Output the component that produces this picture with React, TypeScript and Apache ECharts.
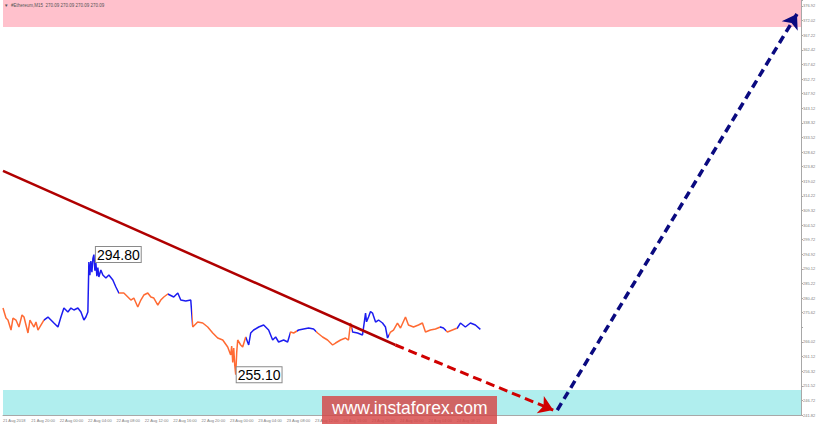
import React, { useEffect, useRef } from "react";
import * as echarts from "echarts";

const titleText = "▼  #Ethereum,M15  270.09 270.09 270.09 270.09";
const xTickLabels = [
  "21 Aug 2018", "21 Aug 20:00", "22 Aug 00:00", "22 Aug 04:00", "22 Aug 08:00",
  "22 Aug 12:00", "22 Aug 16:00", "22 Aug 20:00", "23 Aug 00:00", "23 Aug 04:00",
  "23 Aug 08:00", "23 Aug 12:00", "23 Aug 16:00", "23 Aug 20:00", "24 Aug 00:00",
  "24 Aug 04:00", "24 Aug 08:15",
];
const yTickLabels = [
  "241.82", "246.72", "251.52", "256.32", "261.12", "266.02", "", "275.62",
  "280.42", "285.22", "290.12", "294.92", "299.72", "304.52", "309.32", "314.22",
  "319.02", "323.82", "328.62", "333.52", "338.32", "343.12", "347.92", "352.72",
  "357.62", "362.42", "367.22", "372.02", "376.92",
];
const yBase = 241.82;
const yStep = 4.825;

// hours since 21 Aug 16:00
const hours = [
  0, 0.42, 0.7, 1.13, 1.41, 1.83, 2.25, 2.68, 2.96, 3.24, 3.52, 3.8, 4.37, 4.65, 4.93, 5.35,
  5.77, 6.34, 6.76, 7.18, 7.75, 8.17, 8.59, 9.15, 9.58, 10.0, 10.56, 10.99, 11.41, 11.69, 11.97,
  12.11, 12.25, 12.39, 12.54, 12.68, 12.82, 12.96, 13.1, 13.24, 13.38, 13.52, 13.8, 14.08, 14.51, 14.93, 15.49, 15.92,
  16.34, 17.04, 17.61, 18.03, 18.45, 19.01, 19.44, 19.86, 20.42, 20.85, 21.27, 21.83, 22.25, 22.68,
  23.24, 24.08, 24.65, 25.07, 25.77, 26.48,
  26.76, 27.46, 28.17, 28.87, 29.58, 30.28, 30.99, 31.69, 32.11, 32.25, 32.4, 32.54, 32.68, 32.82, 32.96, 33.1, 33.52, 33.8,
  34.23, 34.65, 34.93, 35.35, 36.06, 36.76, 37.46, 38.03, 38.45, 38.87, 39.58, 40.14,
  40.56, 40.99, 41.69, 42.39, 43.1, 43.8,
  44.37, 45.07, 45.77, 46.48, 46.9, 47.61, 48.31, 48.73, 49.01,
  49.3, 50.0, 50.7, 51.13, 51.27, 51.55, 51.83, 52.11, 52.54, 52.96, 53.52, 53.94, 54.23,
  54.65, 55.07, 55.63, 56.06, 56.76, 57.18, 57.89, 58.59, 59.15, 59.58, 60.28, 60.99,
  61.69, 62.11, 62.68, 63.38, 64.08, 64.51, 65.21, 65.92, 66.62, 67.32,
];
const prices = [
  277.16, 273.85, 273.19, 269.89, 273.85, 273.19, 270.88, 274.84, 274.18, 271.54, 268.9, 273.19, 270.88, 272.53, 269.89, 271.54,
  273.19, 274.18, 273.19, 272.2, 270.88, 274.18, 277.16, 275.84, 277.16, 276.5, 277.16, 275.84, 273.19, 274.18, 275.84,
  292.35, 288.0, 292.7, 289.0, 293.5, 294.8, 289.5, 292.0, 287.7, 290.5, 287.4, 289.71, 288.06, 287.07, 288.06, 286.41, 284.1,
  282.11, 282.11, 280.79, 279.8, 280.46, 277.49, 279.8, 281.45, 282.11, 280.79, 280.46, 278.15, 279.8, 280.79,
  281.78, 280.79, 282.11, 279.8, 279.47, 279.8,
  270.88, 272.53, 272.2, 270.88, 268.9, 267.25, 266.59, 264.28, 261.63, 264.6, 259.2, 263.95, 258.4, 255.1, 262.5, 266.59, 264.94, 264.28,
  267.58, 264.94, 268.9, 269.89, 270.88, 271.54, 269.89, 266.59, 267.58, 265.93, 266.59, 265.93,
  269.23, 268.9, 269.89, 270.22, 270.55, 270.22,
  268.9, 267.58, 266.59, 264.94, 265.6, 266.59, 267.25, 266.59, 272.2,
  269.23, 268.9, 268.24, 275.5, 272.6, 274.18, 276.0, 275.5, 272.53, 273.19, 272.2, 270.88, 267.25,
  269.23, 269.89, 272.2, 270.55, 274.18, 271.54, 270.88, 271.54, 272.2, 269.23, 269.89, 270.22,
  270.88, 270.55, 269.23, 269.89, 270.55, 272.2, 270.88, 272.2, 271.54, 270.09,
];
// hours where the wave colour switches (starts orange)
const waveBreaks = [5.77, 16.34, 23.24, 26.6, 34.2, 40.5, 41.5, 44.2, 49.2, 54.5, 61.6, 62.5, 64.0];
const lastPrice = 270.09;
const highPoint = [12.82, 294.8];
const lowPoint = [32.82, 255.1];
const resistanceZone = [369.97, 378.89];
const supportZone = [241.82, 250.07];
const trendSolid = [[0, 322.45], [55.35, 264.94]];
const trendDashed = [[55.35, 264.94], [77.6, 243.46]];
const forecastLine = [[78.17, 243.46], [111.97, 374.27]];
const xMaxHours = 112.54;
const yTopPrice = 378.89;

const ORANGE = "#ff6a33";
const BLUE = "#1c1cf0";

const toStep = (p: number) => (p - yBase) / yStep;

export default function App() {
  const ref = useRef<HTMLDivElement>(null);
  useEffect(() => {
    if (!ref.current) return;
    const chart = echarts.init(ref.current, null, { renderer: "svg" });

    const pieces: any[] = [];
    let prev: number | null = null;
    waveBreaks.forEach((b, i) => {
      const color = i % 2 === 0 ? ORANGE : BLUE;
      if (prev === null) pieces.push({ lt: b, color });
      else pieces.push({ gte: prev, lt: b, color });
      prev = b;
    });
    pieces.push({ gte: prev, color: waveBreaks.length % 2 === 0 ? ORANGE : BLUE });

    const priceData = hours.map((h, i) => [h, toStep(prices[i])]);
    const pt = (a: number[]) => [a[0], toStep(a[1])];

    const labelBox = {
      show: true,
      color: "#000",
      fontFamily: "Liberation Sans, Arial, sans-serif",
      fontSize: 14,
      backgroundColor: "#fff",
      borderColor: "#8a8a8a",
      borderWidth: 1,
      padding: [1, 1, 0, 1],
    };

    chart.setOption({
      animation: false,
      grid: { left: 2, right: 19, top: 0, bottom: 11, containLabel: false },
      xAxis: {
        type: "value",
        min: 0,
        max: xMaxHours,
        interval: 4,
        splitLine: { show: false },
        axisLine: { show: true, onZero: false, lineStyle: { color: "#a8a8a8", width: 1 } },
        axisTick: { show: false },
        axisLabel: {
          show: true,
          align: "left",
          margin: 3,
          fontSize: 4,
          color: "#808080",
          fontFamily: "Liberation Sans, Arial, sans-serif",
          showMinLabel: true,
          showMaxLabel: true,
          formatter: (v: number) => {
            const i = Math.round(v / 4);
            if (Math.abs(v - i * 4) > 1e-6) return "";
            return xTickLabels[i] ?? "";
          },
        },
      },
      yAxis: {
        type: "value",
        position: "right",
        min: 0,
        max: toStep(yTopPrice),
        interval: 1,
        splitLine: { show: false },
        axisLine: { show: true, onZero: false, lineStyle: { color: "#a8a8a8", width: 1 } },
        axisTick: { show: true, length: 2, lineStyle: { color: "#a8a8a8" } },
        axisLabel: {
          show: true,
          margin: 2,
          fontSize: 4,
          color: "#808080",
          fontFamily: "Liberation Sans, Arial, sans-serif",
          formatter: (v: number) => {
            const i = Math.round(v);
            if (Math.abs(v - i) > 1e-6) return "";
            return yTickLabels[i] ?? "";
          },
        },
      },
      visualMap: {
        type: "piecewise",
        show: false,
        dimension: 0,
        seriesIndex: 0,
        pieces,
      },
      series: [
        {
          type: "line",
          data: priceData,
          showSymbol: false,
          symbol: "none",
          lineStyle: { width: 1.5 },
          z: 3,
        },
        {
          type: "line",
          data: trendSolid.map(pt),
          showSymbol: false,
          symbol: "none",
          lineStyle: { color: "#b00000", width: 2.5 },
          z: 4,
          markArea: {
            silent: true,
            data: [
              [
                { yAxis: toStep(resistanceZone[0]), itemStyle: { color: "#ffc1cc" } },
                { yAxis: toStep(resistanceZone[1]) },
              ],
              [
                { yAxis: toStep(supportZone[0]), itemStyle: { color: "#b0eeee" } },
                { yAxis: toStep(supportZone[1]) },
              ],
            ],
          },
          markPoint: {
            silent: true,
            symbol: "rect",
            symbolSize: 0,
            data: [
              {
                coord: pt(highPoint),
                label: { ...labelBox, position: "right", distance: 2, formatter: highPoint[1].toFixed(2) },
              },
              {
                coord: pt(lowPoint),
                label: { ...labelBox, position: "right", distance: 1, formatter: lowPoint[1].toFixed(2) },
              },
            ],
          },
        },
        {
          type: "line",
          data: [],
          z: 5,
          markLine: {
            silent: true,
            symbol: ["none", "arrow"],
            symbolSize: 14,
            label: { show: false },
            data: [
              [
                { coord: pt(trendDashed[0]), lineStyle: { color: "#d00000", width: 3, type: [9, 5] } },
                { coord: pt(trendDashed[1]) },
              ],
              [
                { coord: pt(forecastLine[0]), lineStyle: { color: "#0a0a80", width: 3.5, type: [8, 5] } },
                { coord: pt(forecastLine[1]) },
              ],
            ],
          },
        },
        {
          type: "line",
          data: [],
          z: 6,
          markLine: {
            silent: true,
            symbol: ["none", "none"],
            lineStyle: { opacity: 0 },
            label: {
              show: true,
              position: "end",
              distance: 2,
              formatter: lastPrice.toFixed(2),
              color: "#fff",
              backgroundColor: "#5a6479",
              fontSize: 4,
              padding: [1, 2],
              fontFamily: "Liberation Sans, Arial, sans-serif",
            },
            data: [{ yAxis: toStep(lastPrice) }],
          },
        },
      ],
      graphic: [
        {
          type: "text",
          left: 4,
          top: 3,
          z: 10,
          style: {
            text: titleText,
            fontSize: 4.5,
            fill: "#555",
            fontFamily: "Liberation Sans, Arial, sans-serif",
          },
        },
        {
          type: "rect",
          left: 322,
          top: 396,
          z: 20,
          shape: { width: 175, height: 28 },
          style: { fill: "rgba(214, 70, 70, 0.82)" },
        },
        {
          type: "text",
          left: 332,
          top: 399,
          z: 21,
          style: {
            text: "www.instaforex.com",
            fontSize: 17.5,
            fill: "#ffffff",
            fontFamily: "Liberation Sans, Arial, sans-serif",
          },
        },
      ],
    });
    return () => chart.dispose();
  }, []);
  return (
    <div
      ref={ref}
      style={{ position: "fixed", left: 0, top: 0, width: 820, height: 426, background: "#fff" }}
    />
  );
}
